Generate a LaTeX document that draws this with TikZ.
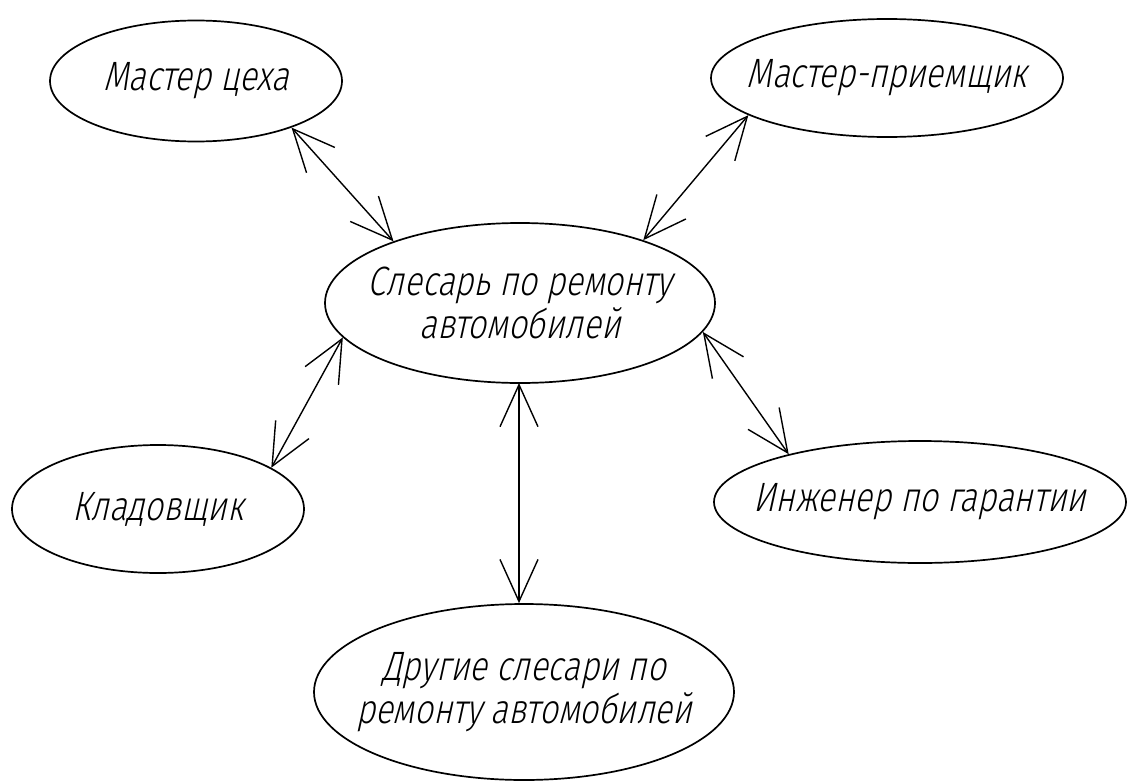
\documentclass[tikz,border=0pt]{standalone}
\usepackage{fontspec}
\setmainfont{Fira Sans}[UprightFont=* Light, FakeSlant=0.22, FakeStretch=0.8]
\usetikzlibrary{shapes.geometric,arrows.meta}
\tikzset{
  ell/.style={draw, ellipse, line width=1.7pt, inner sep=0pt},
  lbl/.style={font=\fontsize{41}{43}\selectfont, align=center, inner sep=0pt},
  link/.style={line width=1.4pt, {Straight Barb[length=42pt,width=38pt]}-{Straight Barb[length=42pt,width=38pt]}}
}
\begin{document}
\begin{tikzpicture}[x=1pt,y=-1pt]
\useasboundingbox (0,0) rectangle (1127,784);
\node[ell, minimum width=292pt, minimum height=121pt] (m) at (196,81) {};
\node[lbl] (mt) at (m) {Мастер цеха};
\node[ell, minimum width=352pt, minimum height=118pt] (p) at (887,78) {};
\node[lbl] (pt) at (p) {Мастер-приемщик};
\node[ell, minimum width=390pt, minimum height=160pt] (c) at (520,303) {};
\node[lbl] (ct) at (c) {Слесарь по ремонту\\автомобилей};
\node[ell, minimum width=292pt, minimum height=128pt] (k) at (158,509) {};
\node[lbl] (kt) at (k) {Кладовщик};
\node[ell, minimum width=412pt, minimum height=122pt] (i) at (920,502) {};
\node[lbl] (it) at (i) {Инженер по гарантии};
\node[ell, minimum width=420pt, minimum height=176pt] (d) at (524,692) {};
\node[lbl] (dt) at (d) {Другие слесари по\\ремонту автомобилей};
\draw[link] (m.-26) -- (c.154.5);
\draw[link] (p.195) -- (c.27.3);
\draw[link] (c.191.9) -- (k.20.6);
\coordinate (cs) at (519,383);
\draw[link] (cs) -- (cs |- d.north);
\draw[link] (c.-9.7) -- (i.160);
\end{tikzpicture}
\end{document}
